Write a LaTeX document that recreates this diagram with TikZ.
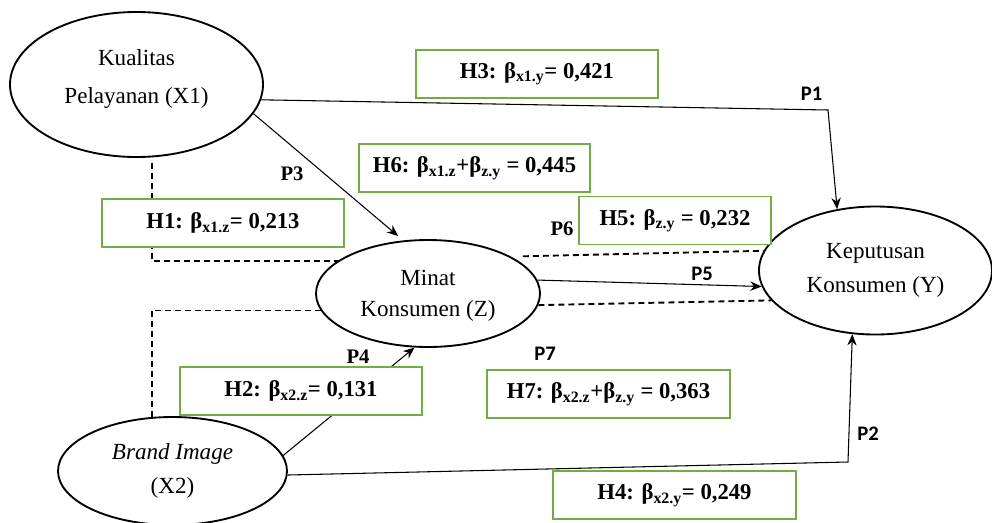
\documentclass[tikz,border=0pt]{standalone}
\usepackage{fontspec}
\setmainfont{Liberation Serif}
\newfontfamily\calibri{Carlito}
\usetikzlibrary{shapes.geometric,arrows.meta}
\definecolor{hgreen}{RGB}{112,173,71}

\begin{document}
\begin{tikzpicture}[x=0.75pt, y=-0.75pt,
    var/.style={draw, ellipse, line width=1.4pt, inner sep=0pt, align=center},
    hyp/.style={draw=hgreen, line width=1.3pt, fill=white, inner sep=0pt,
        minimum width=182pt, minimum height=36pt, font=\fontsize{17}{20}\selectfont\bfseries},
    path/.style={line width=0.8pt, -{Stealth[length=8.5pt,width=7pt]}},
    link/.style={line width=1.4pt, dash pattern=on 4.5pt off 3pt},
    pserif/.style={font=\fontsize{15.5}{18}\selectfont\bfseries},
    psans/.style={font=\calibri\fontsize{15.5}{18}\selectfont\bfseries}]
    \useasboundingbox (0,0) rectangle (992,522);
    \node[var, minimum width=189.75pt, minimum height=108.75pt, text depth=12pt,
        font=\fontsize{17.3}{28}\selectfont] (x1) at (136.5,84.5) {Kualitas\\Pelayanan (X1)};
    \node[var, minimum width=168pt, minimum height=80.25pt, text depth=0pt,
        font=\fontsize{17.3}{23.5}\selectfont] (z) at (428,293.5) {Minat\\Konsumen (Z)};
    \node[var, minimum width=174.75pt, minimum height=96pt,
        font=\fontsize{17.3}{26}\selectfont] (y) at (875.5,270.5) {Keputusan\\Konsumen (Y)};
    \node[var, minimum width=171.75pt, minimum height=81pt,
        font=\fontsize{17.3}{26}\selectfont] (x2) at (172.5,471) {\textit{Brand Image}\\(X2)};
    \coordinate (b1) at (828,110);
    \coordinate (b2) at (848,462);
    \draw[path] (x1.-7) -- (b1) -- (y.122);
    \draw[path, shorten >=5pt] (x1.-14) -- (z.115);
    \draw[path] (x2.8) -- (z.256);
    \draw[path] (z.7) -- (y.188);
    \draw[path] (x2.-2) -- (b2) -- (y.250);
    \draw[link, shorten <=4pt] (x1.-78) |- (z.160);
    \draw[link] (x2.111) |- (z.189);
    \draw[link, shorten <=9pt] (z.24) -- (y.170);
    \draw[link] (z.-6) -- (y.196);
    \node[hyp] (h3) at (537,74) {H3: β\textsubscript{x1.y}= 0,421};
    \node[hyp, minimum width=173pt] (h6) at (474.5,168) {H6: β\textsubscript{x1.z}+β\textsubscript{z.y} = 0,445};
    \node[hyp] (h1) at (223,223) {H1: β\textsubscript{x1.z}= 0,213};
    \node[hyp, minimum width=144pt] (h5) at (675,220.5) {H5: β\textsubscript{z.y} = 0,232};
    \node[hyp] (h2) at (301,391) {H2: β\textsubscript{x2.z}= 0,131};
    \node[hyp] (h7) at (608.5,394) {H7: β\textsubscript{x2.z}+β\textsubscript{z.y} = 0,363};
    \node[hyp] (h4) at (674.5,495) {H4: β\textsubscript{x2.y}= 0,249};
    \node[psans] (p1) at (811.5,93.5) {P1};
    \node[psans] (p2) at (868,434) {P2};
    \node[pserif] (p3) at (292,174) {P3};
    \node[pserif] (p4) at (358,357) {P4};
    \node[psans] (p5) at (702,274) {P5};
    \node[pserif] (p6) at (562,229) {P6};
    \node[psans] (p7) at (545,354) {P7};
\end{tikzpicture}
\end{document}
